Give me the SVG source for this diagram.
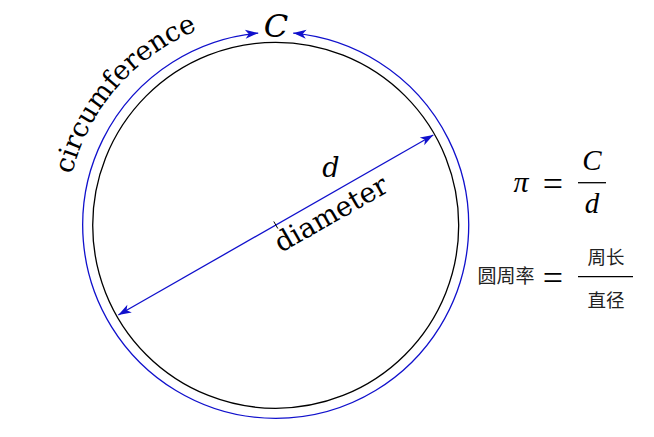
<svg xmlns="http://www.w3.org/2000/svg" width="654" height="437" viewBox="0 0 654 437">
<style>
.blue{fill:none;stroke:#1010cc;stroke-width:1.3}
.lbl{font-family:"DejaVu Serif",serif;fill:#000}
.it{font-style:italic}
.math{font-family:"Liberation Serif","DejaVu Serif",serif;font-style:italic;fill:#000}
.eq{font-family:"Liberation Serif","DejaVu Serif",serif;fill:#000}
.cjk{font-family:"Noto Sans CJK SC","Noto Sans CJK TC",sans-serif;fill:#222}
</style>
<defs>
<marker id="ah" viewBox="-14 -6 15 12" markerWidth="15" markerHeight="12" refX="0" refY="0" orient="auto-start-reverse" markerUnits="userSpaceOnUse" overflow="visible">
<path d="M0,0 L-13,-4.5 L-9.5,0 L-13,4.5 z" fill="#1010cc"/>
</marker>
<path id="circPath" d="M 71.9 174.5 A 210 210 0 0 1 257.4 16.1" fill="none"/>
</defs>
<rect width="654" height="437" fill="#fff"/>
<g id="circle">
<circle cx="275.7" cy="225.3" r="183" fill="none" stroke="#000" stroke-width="1.3"/>
</g>
<g id="connectors">
<path id="circumference-arc" class="blue" d="M 258.2 33.1 A 193 193 0 1 0 293.2 33.1" marker-start="url(#ah)" marker-end="url(#ah)"/>
<path id="diameter-line" class="blue" d="M 118.3 315 L 433.3 135" marker-start="url(#ah)" marker-end="url(#ah)"/>
<path id="center-tick" d="M 273.8 221.5 L 277.8 228.5" stroke="#000" stroke-width="1"/>
</g>
<g id="label-C">
<text class="lbl it" x="276" y="36.5" font-size="32" text-anchor="middle">C</text>
</g>
<g id="label-circumference">
<text class="lbl" font-size="27"><textPath href="#circPath">circumference</textPath></text>
</g>
<g id="label-d">
<text class="lbl it" x="331" y="177" font-size="27" text-anchor="middle">d</text>
</g>
<g id="label-diameter">
<text class="lbl" font-size="27.5" transform="translate(281 253) rotate(-29.7)">diameter</text>
</g>
<g id="formula-pi">
<text class="math" x="521" y="192" font-size="30" text-anchor="middle">π</text>
<text class="eq" x="553" y="196" font-size="36" text-anchor="middle">=</text>
<text class="math" x="592" y="170" font-size="29" text-anchor="middle">C</text>
<line x1="578" y1="182.7" x2="606" y2="182.7" stroke="#000" stroke-width="1.3"/>
<text class="math" x="592" y="213" font-size="29" text-anchor="middle">d</text>
</g>
<g id="formula-cjk">
<text class="cjk" x="506" y="283" font-size="19" text-anchor="middle">圆周率</text>
<text class="eq" x="553" y="290" font-size="36" text-anchor="middle" fill="#333">=</text>
<text class="cjk" x="606" y="264" font-size="18.5" text-anchor="middle">周长</text>
<line x1="578" y1="276.7" x2="633" y2="276.7" stroke="#000" stroke-width="1.3"/>
<text class="cjk" x="606" y="307" font-size="18.5" text-anchor="middle">直径</text>
</g>
</svg>
